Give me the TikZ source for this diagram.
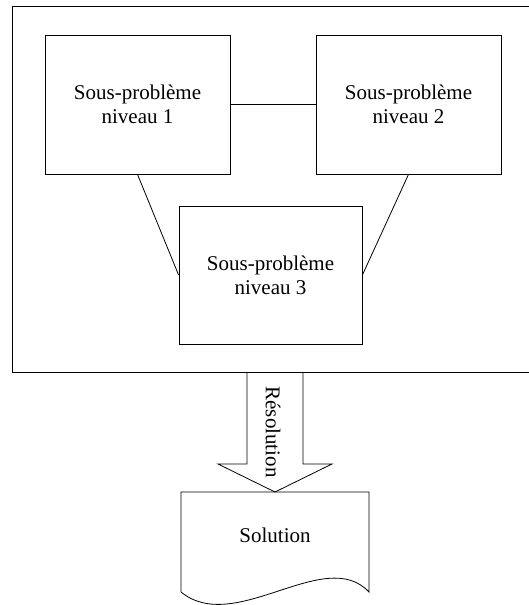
\documentclass[tikz,border=0pt]{standalone}
\usepackage{fontspec}
\setmainfont{Liberation Serif}
\usetikzlibrary{positioning}

\begin{document}
\begin{tikzpicture}[x=1pt,y=-1pt,line width=0.8pt,
    subbox/.style={draw,minimum width=185pt,minimum height=139pt,align=center,
      font=\fontsize{21}{24}\selectfont}]
  \useasboundingbox (0,0) rectangle (528,605);

  % cadre
  \draw (12,6) rectangle (532,372);

  \node[subbox] (sp1) at (137.5,104.5) {Sous-problème\\niveau 1};
  \node[subbox] (sp2) at (408.5,104.5) {Sous-problème\\niveau 2};
  \node[subbox,minimum width=183pt,minimum height=138pt] (sp3) at (270.5,275) {Sous-problème\\niveau 3};

  \draw (sp1.east) -- (sp2.west);
  \draw (sp1.south) -- (sp3.west);
  \draw (sp2.south) -- (sp3.east);

  % fleche de resolution
  \coordinate (Ra) at (247,372);
  \coordinate (Rb) at (303,372);
  \coordinate (Rt) at (275,492);
  \draw (Ra) -- (247,464) -- (218,464) -- (Rt) -- (332,464) -- (303,464) -- (Rb);
  \node[rotate=-90,font=\fontsize{21}{24}\selectfont] (res) at (273,432) {Résolution};

  % document solution
  \draw (181,592) -- (181,492) -- (369,492) -- (369,592)
    .. controls (325,545) and (235,636) .. (181,592);
  \node[font=\fontsize{21}{24}\selectfont] (sol) at (275,535) {Solution};
\end{tikzpicture}
\end{document}
